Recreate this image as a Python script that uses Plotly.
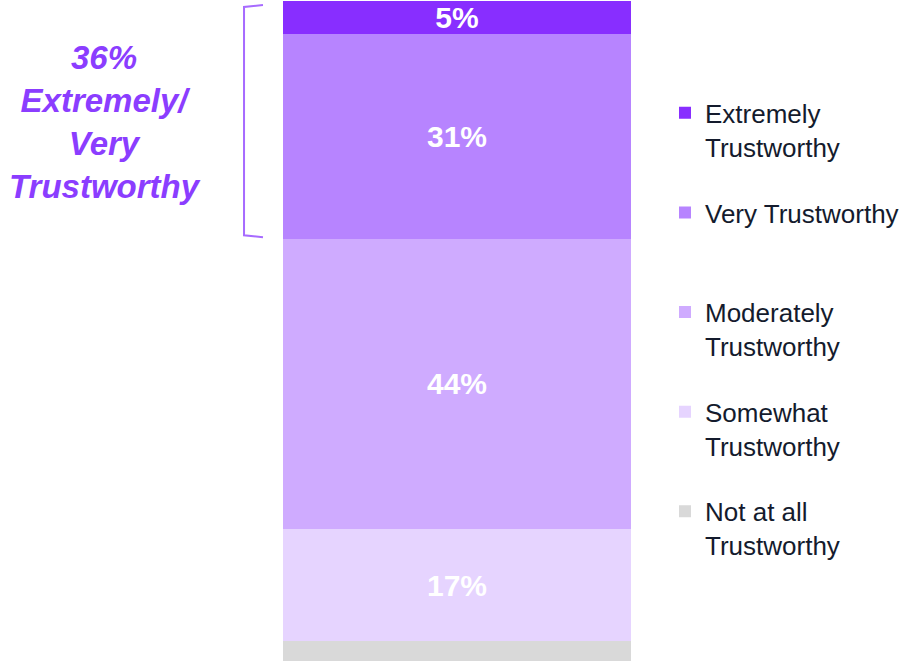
import plotly.graph_objects as go

categories = ["Not at all<br>Trustworthy", "Somewhat<br>Trustworthy", "Moderately<br>Trustworthy",
              "Very Trustworthy<br> ", "Extremely<br>Trustworthy"]
values = [3, 17, 44, 31, 5]
labels = ["", "17%", "44%", "31%", "5%"]
colors = ["#D9D9D9", "#E6D4FF", "#CFABFF", "#B784FF", "#882EFF"]
callout_text = "36%<br>Extremely/<br>Very<br>Trustworthy"

fig = go.Figure()
n = len(categories)
for i, (cat, v, lab, c) in enumerate(zip(categories, values, labels, colors)):
    fig.add_trace(go.Bar(
        x=[0], y=[v], name=cat, marker=dict(color=c, line=dict(width=0)),
        text=[lab], texttemplate="%{text}", textposition="inside",
        insidetextanchor="middle", constraintext="none",
        textfont=dict(family="Liberation Sans, Arial", size=30, color="white", weight="bold"),
        width=1, legendgroup=f"g{i}", legendrank=n - i, hoverinfo="skip",
        cliponaxis=False,
    ))

fig.update_layout(
    width=923, height=664,
    margin=dict(l=283, r=292, t=1, b=3),
    barmode="stack",
    plot_bgcolor="white", paper_bgcolor="white",
    xaxis=dict(range=[-0.5, 0.5], visible=False),
    yaxis=dict(range=[0, 100], visible=False),
    showlegend=True,
    legend=dict(
        x=1.0977, xanchor="left", y=0.866, yanchor="top",
        traceorder="grouped", tracegroupgap=29, valign="top",
        font=dict(family="Liberation Sans, Arial", size=26, color="#141B2D"),
        bgcolor="rgba(0,0,0,0)", itemclick=False, itemdoubleclick=False,
    ),
)

# bracket
bc = "#A76BFF"
fig.add_shape(type="path", xref="paper", yref="y",
              path="M -0.0575,99.4 L -0.112,99.1 L -0.112,64.5 L -0.0575,64.2",
              line=dict(color=bc, width=2))

fig.add_annotation(
    x=-0.5115, y=0.8167, xref="paper", yref="paper", showarrow=False,
    xanchor="center", yanchor="middle",
    text=callout_text, align="center",
    font=dict(family="Liberation Sans, Arial", size=33, color="#8B3DFF", weight="bold", style="italic"),
)

fig.write_html("out.html", config={"displayModeBar": False},
               post_script="document.body.style.margin='0';")
